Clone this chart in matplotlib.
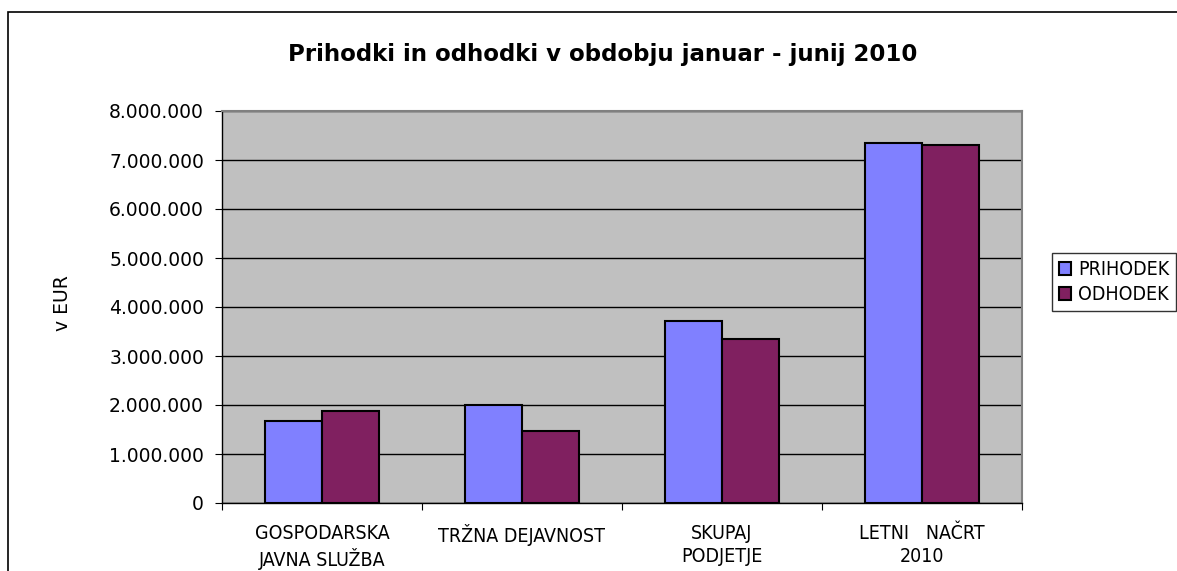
import numpy as np
import matplotlib
matplotlib.use("Agg")
import matplotlib.pyplot as plt
from matplotlib.patches import Rectangle
from matplotlib.ticker import FuncFormatter

plt.rcParams["font.family"] = ["DejaVu Sans"]

categories = ["GOSPODARSKA\nJAVNA SLUŽBA", "TRŽNA DEJAVNOST", "SKUPAJ\nPODJETJE", "LETNI   NAČRT\n2010"]
prihodek = [1670000, 2000000, 3710000, 7340000]
odhodek = [1870000, 1470000, 3350000, 7300000]
series_names = ["PRIHODEK", "ODHODEK"]
colors = ["#8080FF", "#802060"]

fig = plt.figure(figsize=(11.77, 5.71), dpi=100)
W, H = 1177, 571

# outer chart frame
fig.patches.append(Rectangle((8 / W, -0.05), 1.1, 1 - 12 / H + 0.05, transform=fig.transFigure,
                             fill=False, edgecolor="black", linewidth=1.2))

ax = fig.add_axes([222 / W, (H - 503) / H, 800 / W, 392 / H])
ax.set_facecolor("#C0C0C0")

x = np.arange(len(categories)) + 0.5
w = 0.285
ax.bar(x - w / 2, prihodek, w, color=colors[0], edgecolor="black", linewidth=1.5, label=series_names[0], zorder=3)
ax.bar(x + w / 2, odhodek, w, color=colors[1], edgecolor="black", linewidth=1.5, label=series_names[1], zorder=3)

ax.set_xlim(0, 4)
ax.set_ylim(0, 8000000)
ax.set_yticks(np.arange(0, 8000001, 1000000))
ax.yaxis.set_major_formatter(FuncFormatter(lambda v, p: f"{int(v):,}".replace(",", ".")))
ax.grid(axis="y", color="black", linewidth=1, zorder=1)

ax.set_xticks(np.arange(0, 5))
ax.set_xticklabels([])
ax.set_xticks(x, minor=True)
ax.set_xticklabels(categories, minor=True, fontsize=14, fontstretch="condensed", linespacing=1.3)
ax.tick_params(axis="x", which="minor", length=0, pad=15)
ax.tick_params(axis="x", which="major", length=5, direction="out")
ax.tick_params(axis="y", length=5, direction="out", labelsize=13.5, pad=8)

for s in ["left", "bottom"]:
    ax.spines[s].set_color("black")
    ax.spines[s].set_linewidth(1)
for s in ["top", "right"]:
    ax.spines[s].set_color("#808080")
    ax.spines[s].set_linewidth(1.5)

fig.text(62 / W, 1 - 303 / H, "v EUR", rotation=90, ha="center", va="center", fontsize=13.5)
fig.text(603 / W, 1 - 55 / H, "Prihodki in odhodki v obdobju januar - junij 2010",
         ha="center", va="center", fontsize=16.5, fontweight="bold")

leg = ax.legend(loc="center left", bbox_to_anchor=(1042 / W, 1 - 282 / H), bbox_transform=fig.transFigure,
                frameon=True, fancybox=False, edgecolor="black", prop={"size": 14, "stretch": "condensed"},
                handlelength=0.65, handleheight=0.65, handletextpad=0.35, borderpad=0.35, labelspacing=0.3)
leg.get_frame().set_linewidth(1)

fig.savefig("out.png", dpi=100)
